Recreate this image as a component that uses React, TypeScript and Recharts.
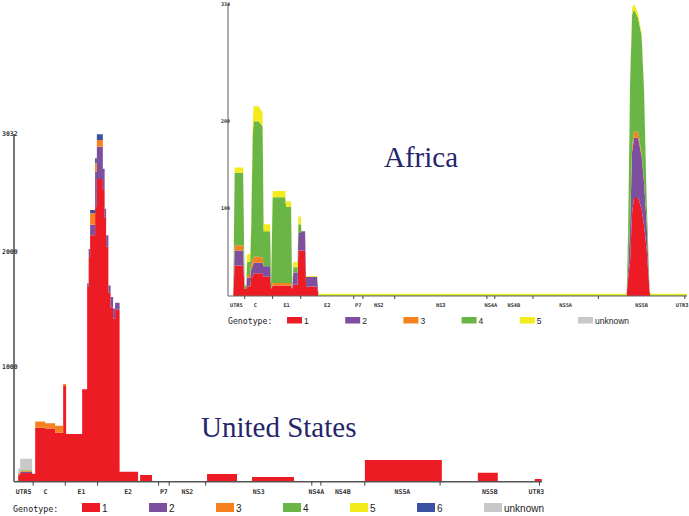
import React from 'react';
import { AreaChart, Area, XAxis, YAxis } from 'recharts';

// ---------- shared genome region axis ----------
const regionBounds = [342, 915, 1491, 2580, 2769, 3420, 5313, 5475, 6258, 7602, 9375];
const regionLabelPos = [171, 560, 1203, 2035, 2674, 3094, 4366, 5394, 5866, 6930, 8488, 9320];
const regionLabels = ['UTR5', 'C', 'E1', 'E2', 'P7', 'NS2', 'NS3', 'NS4A', 'NS4B', 'NS5A', 'NS5B', 'UTR3'];
const genomeEnd = 9420;

// ---------- United States ----------
const usPos = [0, 75, 110, 324, 378, 556, 734, 877, 930, 1216, 1305, 1332, 1358, 1447, 1478, 1585, 1617, 1643, 1684, 1724, 1768, 1804, 1884, 2214, 2250, 2463, 3444, 3979, 4246, 4995, 6260, 7633, 8275, 8631, 9290, 9415];
const usG1 = [0, 60, 76, 70, 471, 465, 427, 835, 416, 806, 1700, 1950, 2150, 2400, 2640, 2550, 2300, 2050, 1650, 1520, 1420, 1500, 87, 0, 58, 0, 67, 0, 41, 0, 189, 0, 79, 0, 23, 23];
const usG2 = [0, 6, 10, 0, 0, 0, 0, 0, 0, 0, 30, 80, 90, 300, 280, 180, 80, 100, 60, 90, 90, 60, 0, 0, 0, 0, 0, 0, 0, 0, 0, 0, 0, 0, 0, 0];
const usG3 = [0, 5, 8, 0, 55, 45, 60, 17, 0, 0, 0, 0, 100, 80, 60, 0, 0, 0, 0, 0, 0, 0, 0, 0, 0, 0, 0, 0, 0, 0, 0, 0, 0, 0, 0, 0];
const usG4 = [0, 5, 6, 0, 0, 0, 0, 0, 0, 0, 0, 0, 0, 0, 0, 0, 0, 0, 0, 0, 0, 0, 0, 0, 0, 0, 0, 0, 0, 0, 0, 0, 0, 0, 0, 0];
const usG5 = [0, 0, 0, 0, 0, 0, 0, 0, 0, 0, 0, 0, 0, 0, 0, 0, 0, 0, 0, 0, 0, 0, 0, 0, 0, 0, 0, 0, 0, 0, 0, 0, 0, 0, 0, 0];
const usG6 = [0, 0, 0, 0, 0, 0, 0, 0, 0, 0, 0, 0, 30, 40, 50, 0, 0, 0, 0, 0, 0, 0, 0, 0, 0, 0, 0, 0, 0, 0, 0, 0, 0, 0, 0, 0];
const usUnk = [0, 40, 100, 0, 0, 0, 0, 0, 0, 0, 0, 0, 0, 0, 0, 0, 0, 0, 0, 0, 0, 0, 0, 0, 0, 0, 0, 0, 0, 0, 0, 0, 0, 0, 0, 0];
const usYMax = 3032;
const usYTicks = [1000, 2000, 3032];

// ---------- Africa ----------
const afPos = [0, 107, 137, 311, 342, 373, 393, 455, 475, 506, 527, 629, 711, 732, 865, 885, 916, 1172, 1193, 1295, 1316, 1340, 1428, 1443, 1496, 1508, 1582, 1602, 1828, 1859, 8180, 8211, 8252, 8293, 8334, 8416, 8488, 8539, 8590, 8652, 8672, 9420];
const afG1 = [0, 0, 35, 35, 8, 8, 11, 11, 20, 22, 26, 26, 26, 22, 22, 8, 12, 12, 12, 12, 8, 13, 13, 52, 52, 52, 52, 11, 11, 0, 0, 20, 40, 95, 112, 112, 100, 80, 55, 5, 0, 0];
const afG2 = [0, 0, 17, 17, 0, 0, 10, 10, 10, 12, 12, 12, 12, 12, 12, 0, 0, 0, 0, 0, 0, 14, 14, 20, 20, 22, 22, 11, 11, 0, 0, 10, 40, 70, 69, 69, 60, 50, 30, 0, 0, 0];
const afG3 = [0, 0, 6, 6, 0, 0, 3, 3, 5, 7, 7, 7, 6, 0, 0, 0, 3, 3, 3, 3, 0, 0, 0, 0, 0, 0, 0, 0, 0, 0, 0, 2, 4, 7, 7, 7, 3, 0, 0, 0, 0, 0];
const afG4 = [0, 0, 83, 83, 4, 4, 15, 15, 40, 140, 155, 155, 150, 40, 40, 5, 98, 98, 87, 87, 0, 6, 6, 10, 10, 0, 0, 0, 0, 1, 1, 40, 160, 150, 140, 130, 135, 105, 30, 2, 1, 1];
const afG5 = [0, 0, 6, 6, 0, 0, 9, 9, 9, 17, 17, 17, 16, 8, 8, 0, 7, 7, 6, 6, 0, 6, 6, 9, 9, 0, 0, 1, 1, 1.5, 1.5, 2, 4, 8, 6, 5, 3, 2, 1, 1, 1.5, 1.5];
const afYMax = 334;
const afYTicks = [100, 200, 334];

// ---------- legend ----------
const genotypeKeys = ['g1', 'g2', 'g3', 'g4', 'g5', 'g6', 'unk'];
const genotypeNames = ['1', '2', '3', '4', '5', '6', 'unknown'];
const genotypeColors = ['#ed1c24', '#7f4f9f', '#f6821f', '#69b646', '#f4eb1c', '#3b52a3', '#c8c8c8'];
const afKeys = ['g1', 'g2', 'g3', 'g4', 'g5', 'unk'];

const usData = usPos.map((pos, i) => ({
  pos, g1: usG1[i], g2: usG2[i], g3: usG3[i], g4: usG4[i], g5: usG5[i], g6: usG6[i], unk: usUnk[i],
}));
const afData = afPos.map((pos, i) => ({
  pos, g1: afG1[i], g2: afG2[i], g3: afG3[i], g4: afG4[i], g5: afG5[i],
}));

const allXTicks = [...regionBounds, ...regionLabelPos].sort((a, b) => a - b);
const MONO = '"DejaVu Sans Mono", monospace';

function makeXTick(fs: number, len: number, off: number) {
  return (p: any) => {
    const v = p.payload.value;
    if (regionBounds.indexOf(v) >= 0) {
      return <line x1={p.x} y1={p.y} x2={p.x} y2={p.y + len} stroke="#444" strokeWidth={1} />;
    }
    const li = regionLabelPos.indexOf(v);
    return (
      <text x={p.x} y={p.y + off} textAnchor="middle" fontSize={fs} fontFamily={MONO} fontWeight="bold" fill="#333">
        {regionLabels[li]}
      </text>
    );
  };
}

function makeYTick(fs: number, dx: number, dy: number) {
  return (p: any) => (
    <text x={p.x + dx} y={p.y + dy} textAnchor="start" fontSize={fs} fontFamily={MONO} fontWeight="bold" fill="#333">
      {String(p.payload.value)}
    </text>
  );
}

const abs: React.CSSProperties = { position: 'absolute', left: 0, top: 0, width: 689, height: 516 };

export default function App() {
  return (
    <div style={{ ...abs, background: '#fff' }}>
      <div style={abs}>
        <AreaChart width={689} height={516} data={usData} margin={{ top: 134, right: 147, bottom: 14.3, left: 0 }}>
          <XAxis dataKey="pos" type="number" domain={[0, genomeEnd]} ticks={allXTicks} interval={0}
            tickSize={0} tickMargin={0} tickLine={false} allowDataOverflow
            axisLine={{ stroke: '#555', strokeWidth: 1.5 }} tick={makeXTick(6.5, 4, 11.8)} height={20} />
          <YAxis type="number" domain={[0, usYMax]} ticks={usYTicks} interval={0} width={14}
            tickSize={0} tickMargin={0} tickLine={false} allowDataOverflow
            axisLine={{ stroke: '#777', strokeWidth: 2 }} tick={makeYTick(6.5, -12, 1.8)} />
          {genotypeKeys.map((k, i) => (
            <Area key={k} type="stepAfter" dataKey={k} stackId="us" stroke="none" fill={genotypeColors[i]}
              fillOpacity={1} isAnimationActive={false} dot={false} activeDot={false} />
          ))}
        </AreaChart>
      </div>
      <div style={abs}>
        <AreaChart width={689} height={516} data={afData} margin={{ top: 4, right: 2, bottom: 208, left: 220 }}>
          <XAxis dataKey="pos" type="number" domain={[0, genomeEnd]} ticks={allXTicks} interval={0}
            tickSize={0} tickMargin={0} tickLine={false} allowDataOverflow
            axisLine={{ stroke: '#666', strokeWidth: 1 }} tick={makeXTick(5.3, 3, 10.8)} height={12} />
          <YAxis type="number" domain={[0, afYMax]} ticks={afYTicks} interval={0} width={8}
            tickSize={0} tickMargin={0} tickLine={false} allowDataOverflow
            axisLine={{ stroke: '#777', strokeWidth: 1.2 }} tick={makeYTick(5, -7, 1.8)} />
          {afKeys.filter((k) => k !== 'unk').map((k) => {
            const i = genotypeKeys.indexOf(k);
            return (
              <Area key={k} type="linear" dataKey={k} stackId="af" stroke="none" fill={genotypeColors[i]}
                fillOpacity={1} isAnimationActive={false} dot={false} activeDot={false} />
            );
          })}
        </AreaChart>
      </div>
      <svg style={{ ...abs, pointerEvents: 'none' }} width={689} height={516}>
        <text x={384} y={167} fontFamily='"Liberation Serif", "Times New Roman", serif' fontSize={29} fill="#25256b">Africa</text>
        <text x={201} y={437} fontFamily='"Liberation Serif", "Times New Roman", serif' fontSize={29} fill="#25256b">United States</text>
        {/* US legend */}
        <text x={13} y={512} fontFamily={MONO} fontSize={8.4} fill="#222">Genotype:</text>
        {genotypeKeys.map((k, i) => (
          <g key={k}>
            <rect x={82 + i * 67} y={503} width={18} height={9} fill={genotypeColors[i]} />
            <text x={102 + i * 67} y={512} fontFamily='"Liberation Sans", Arial, sans-serif' fontSize={10} fill="#222">{genotypeNames[i]}</text>
          </g>
        ))}
        {/* Africa legend */}
        <text x={228} y={323.5} fontFamily={MONO} fontSize={8.2} fill="#222">Genotype:</text>
        {afKeys.map((k, j) => {
          const i = genotypeKeys.indexOf(k);
          return (
            <g key={k}>
              <rect x={287 + j * 58.2} y={317} width={15} height={6.5} fill={genotypeColors[i]} />
              <text x={304 + j * 58.2} y={324} fontFamily='"Liberation Sans", Arial, sans-serif' fontSize={8.5} fill="#222">{genotypeNames[i]}</text>
            </g>
          );
        })}
      </svg>
    </div>
  );
}
